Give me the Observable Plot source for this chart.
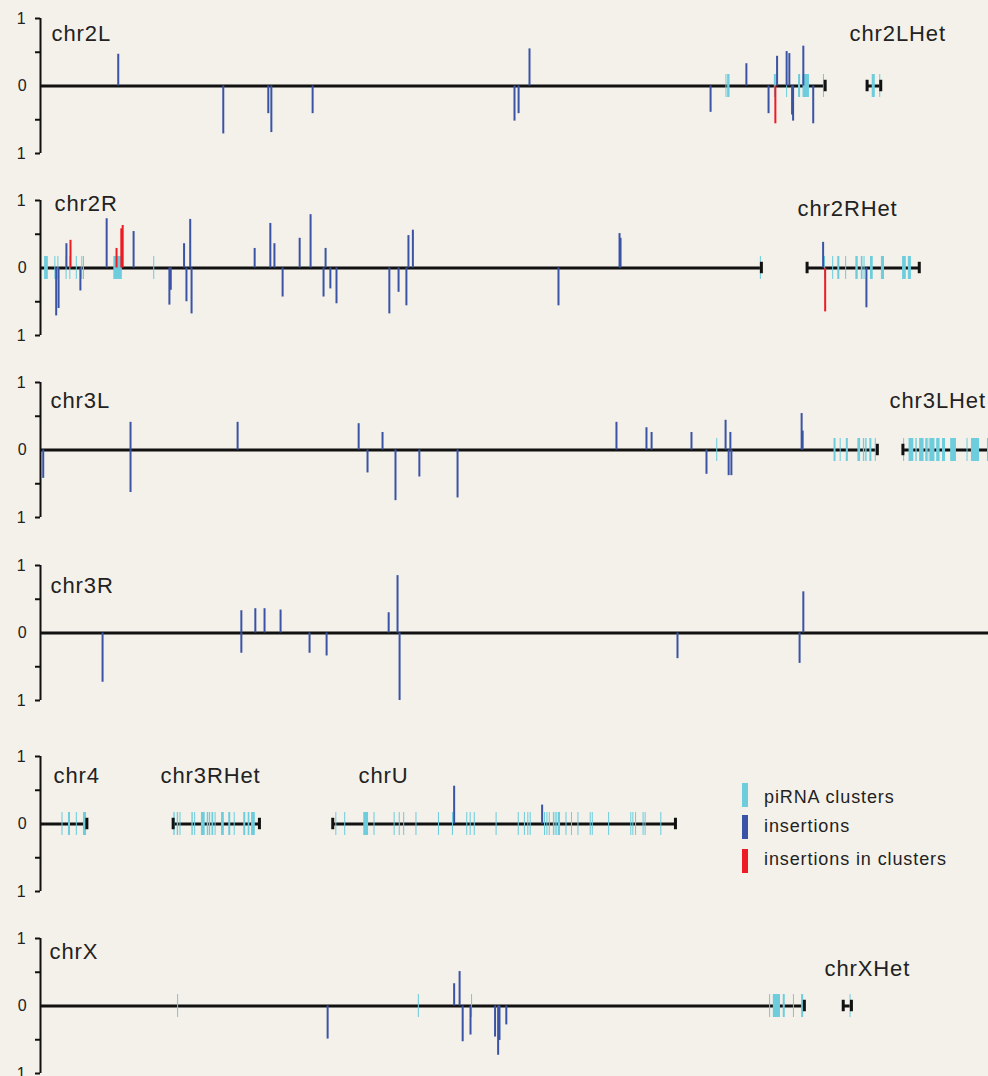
<!DOCTYPE html>
<html><head><meta charset="utf-8">
<script src="https://cdn.jsdelivr.net/npm/d3@7"></script>
<script src="https://cdn.jsdelivr.net/npm/@observablehq/plot@0.6"></script>
<style>
html,body{margin:0;padding:0;background:#f4f1ea;width:988px;height:1076px;overflow:hidden;}
#chart{position:relative;width:988px;height:1076px;overflow:hidden;font-family:"Liberation Sans",Arial,Helvetica,sans-serif;}
.row{position:absolute;left:0;}
</style></head><body><div id="chart"></div>
<script>
// ---------------- data (Mb, chromosome-local coordinates) ----------------
const chromNames   = ["chr2L","chr2LHet","chr2R","chr2RHet","chr3L","chr3LHet","chr3R","chr4","chr3RHet","chrU","chrX","chrXHet"];
const chromLengths = [23.01, 0.40, 21.14, 3.29, 24.54, 2.56, 27.91, 1.36, 2.53, 10.05, 22.40, 0.24];
const panelRows = [["chr2L","chr2LHet"],["chr2R","chr2RHet"],["chr3L","chr3LHet"],["chr3R"],["chr4","chr3RHet","chrU"],["chrX","chrXHet"]];

// piRNA clusters: [chromosome, start, end]
const clusters = [
  ["chr2L",0,0.03],["chr2L",20.10,20.13],["chr2L",20.15,20.22],["chr2L",21.52,21.58],["chr2L",21.88,21.91],["chr2L",22.23,22.29],["chr2L",22.36,22.55],["chr2L",22.96,22.99],
  ["chr2LHet",0.15,0.24],["chr2LHet",0.37,0.40],
  ["chr2R",0.12,0.23],["chr2R",0.42,0.45],["chr2R",0.51,0.54],["chr2R",0.75,0.78],["chr2R",0.86,0.89],["chr2R",1.05,1.08],["chr2R",1.21,1.24],["chr2R",1.26,1.29],["chr2R",2.15,2.40],["chr2R",3.32,3.35],["chr2R",21.11,21.14],
  ["chr2RHet",0.51,0.54],["chr2RHet",0.75,0.78],["chr2RHet",0.90,0.96],["chr2RHet",1.13,1.16],["chr2RHet",1.43,1.50],["chr2RHet",1.59,1.64],["chr2RHet",1.67,1.70],["chr2RHet",1.86,1.94],["chr2RHet",2.18,2.27],["chr2RHet",2.80,2.91],["chr2RHet",2.97,3.06],
  ["chr3L",19.83,19.86],["chr3L",23.27,23.33],["chr3L",23.45,23.48],["chr3L",23.63,23.69],["chr3L",23.97,24.05],["chr3L",24.13,24.17],["chr3L",24.20,24.24],["chr3L",24.32,24.38],["chr3L",24.48,24.51],
  ["chr3LHet",0.02,0.05],["chr3LHet",0.18,0.32],["chr3LHet",0.38,0.42],["chr3LHet",0.49,0.62],["chr3LHet",0.67,0.72],["chr3LHet",0.73,0.76],["chr3LHet",0.79,0.94],["chr3LHet",0.99,1.09],["chr3LHet",1.16,1.25],["chr3LHet",1.40,1.57],["chr3LHet",1.88,1.91],["chr3LHet",2.01,2.25],["chr3LHet",2.48,2.55],
  ["chr3R",0,0.03],
  ["chr4",0.63,0.66],["chr4",0.82,0.88],["chr4",1.05,1.08],["chr4",1.26,1.35],
  ["chr3RHet",0.02,0.06],["chr3RHet",0.12,0.16],["chr3RHet",0.20,0.23],["chr3RHet",0.55,0.59],["chr3RHet",0.63,0.66],["chr3RHet",0.83,0.94],["chr3RHet",1.00,1.04],["chr3RHet",1.06,1.10],["chr3RHet",1.14,1.19],["chr3RHet",1.23,1.26],["chr3RHet",1.42,1.50],["chr3RHet",1.63,1.69],["chr3RHet",1.79,1.82],["chr3RHet",2.07,2.13],["chr3RHet",2.20,2.25],["chr3RHet",2.30,2.41],
  ["chrU",0.09,0.12],["chrU",0.35,0.38],["chrU",0.91,1.05],["chrU",1.21,1.24],["chrU",1.80,1.83],["chrU",1.95,1.98],["chrU",2.08,2.11],["chrU",2.44,2.47],["chrU",3.10,3.13],["chrU",3.51,3.54],["chrU",3.93,3.96],["chrU",4.03,4.06],["chrU",4.15,4.18],["chrU",4.79,4.82],["chrU",5.44,5.47],["chrU",5.62,5.65],["chrU",5.72,5.75],["chrU",5.79,5.82],["chrU",6.21,6.24],["chrU",6.28,6.31],["chrU",6.35,6.38],["chrU",6.47,6.50],["chrU",6.52,6.55],["chrU",6.57,6.60],["chrU",6.62,6.65],["chrU",6.65,6.68],["chrU",6.84,6.87],["chrU",7.00,7.03],["chrU",7.19,7.22],["chrU",7.55,7.58],["chrU",7.61,7.64],["chrU",8.09,8.12],["chrU",8.74,8.77],["chrU",8.80,8.83],["chrU",8.88,8.91],["chrU",9.10,9.13],["chrU",9.16,9.19],["chrU",9.62,9.65],
  ["chrX",0,0.03],["chrX",4.02,4.05],["chrX",11.08,11.11],["chrX",12.64,12.67],["chrX",21.38,21.41],["chrX",21.49,21.70],["chrX",21.78,21.84],["chrX",22.08,22.11],["chrX",22.32,22.38],
  ["chrXHet",0.20,0.23]
];

// insertions: [chromosome, position, value (+ up / - down), inCluster]
const insertions = [
  ["chr2L",2.28,0.47,0],["chr2L",5.36,-0.71,0],["chr2L",6.68,-0.41,0],["chr2L",6.77,-0.69,0],["chr2L",7.98,-0.41,0],["chr2L",13.90,-0.52,0],["chr2L",14.02,-0.41,0],["chr2L",14.34,0.55,0],["chr2L",19.65,-0.39,0],["chr2L",20.70,0.33,0],["chr2L",21.35,-0.41,0],["chr2L",21.55,-0.56,1],["chr2L",21.60,0.44,0],["chr2L",21.88,0.51,0],["chr2L",21.96,0.48,0],["chr2L",22.04,-0.43,0],["chr2L",22.07,-0.52,0],["chr2L",22.37,0.59,0],["chr2L",22.66,-0.56,0],
  ["chr2R",0.46,-0.71,0],["chr2R",0.53,-0.60,0],["chr2R",0.76,0.36,0],["chr2R",0.88,0.41,1],["chr2R",1.17,-0.34,0],["chr2R",1.94,0.73,0],["chr2R",2.23,0.29,1],["chr2R",2.37,0.58,1],["chr2R",2.41,0.63,1],["chr2R",2.73,0.54,0],["chr2R",3.78,-0.55,0],["chr2R",3.82,-0.33,0],["chr2R",4.21,0.36,0],["chr2R",4.28,-0.50,0],["chr2R",4.39,0.72,0],["chr2R",4.43,-0.68,0],["chr2R",6.28,0.29,0],["chr2R",6.74,0.66,0],["chr2R",6.86,0.36,0],["chr2R",7.10,-0.43,0],["chr2R",7.60,0.44,0],["chr2R",7.92,0.79,0],["chr2R",8.30,-0.43,0],["chr2R",8.36,0.29,0],["chr2R",8.50,-0.31,0],["chr2R",8.68,-0.53,0],["chr2R",10.23,-0.68,0],["chr2R",10.50,-0.36,0],["chr2R",10.73,-0.56,0],["chr2R",10.79,0.48,0],["chr2R",10.92,0.56,0],["chr2R",15.19,-0.56,0],["chr2R",16.98,0.51,0],["chr2R",17.01,0.44,0],
  ["chr2RHet",0.47,0.38,0],["chr2RHet",0.53,-0.65,1],["chr2RHet",1.74,-0.59,0],
  ["chr3L",0.08,-0.42,0],["chr3L",2.64,0.41,0],["chr3L",2.64,-0.63,0],["chr3L",5.78,0.41,0],["chr3L",9.33,0.39,0],["chr3L",9.59,-0.34,0],["chr3L",10.03,0.26,0],["chr3L",10.41,-0.75,0],["chr3L",11.11,-0.40,0],["chr3L",12.23,-0.71,0],["chr3L",16.89,0.41,0],["chr3L",17.77,0.33,0],["chr3L",17.92,0.26,0],["chr3L",19.09,0.26,0],["chr3L",19.53,-0.36,0],["chr3L",20.09,0.44,0],["chr3L",20.18,-0.38,0],["chr3L",20.23,0.26,0],["chr3L",20.26,-0.38,0],["chr3L",22.32,0.54,0],["chr3L",22.35,0.28,0],
  ["chr3R",1.82,-0.73,0],["chr3R",5.89,0.33,0],["chr3R",5.89,-0.30,0],["chr3R",6.30,0.36,0],["chr3R",6.57,0.36,0],["chr3R",7.04,0.34,0],["chr3R",7.89,-0.30,0],["chr3R",8.39,-0.34,0],["chr3R",10.21,0.30,0],["chr3R",10.47,0.85,0],["chr3R",10.53,-1.0,0],["chr3R",18.68,-0.38,0],["chr3R",22.26,-0.45,0],["chr3R",22.37,0.61,0],
  ["chrU",3.56,0.56,0],["chrU",6.14,0.28,0],
  ["chrX",8.42,-0.49,0],["chrX",12.13,0.33,0],["chrX",12.29,0.51,0],["chrX",12.38,-0.53,0],["chrX",12.61,-0.43,0],["chrX",13.33,-0.46,0],["chrX",13.42,-0.73,0],["chrX",13.46,-0.51,0],["chrX",13.66,-0.28,0]
];

const yTickValues = [-1, -0.5, 0.5, 1];
const legendLabels = ["piRNA clusters", "insertions", "insertions in clusters"];

// ---------------- layout ----------------
const chromOffsets = {chr2LHet:24.24, chr2RHet:22.48, chr3LHet:25.29, chr3RHet:3.89, chrU:8.57, chrXHet:23.54};
const panelTops = [1, 183, 365, 548, 739, 921];
const labelPlacement = {chr2L:[51,39], chr2LHet:[849,39], chr2R:[54,27], chr2RHet:[797,32], chr3L:[50,42], chr3LHet:[889,42], chr3R:[50,44], chr4:[53,43], chr3RHet:[160,43], chrU:[358,43], chrX:[49,37], chrXHet:[824,54]};
const COL = {cluster:"#6dcddd", ins:"#3a53a4", red:"#ed1c24", line:"#111111", text:"#222222"};
const FONT = '"Liberation Sans", Arial, Helvetica, sans-serif';

const lengthOf = Object.fromEntries(chromNames.map((n, i) => [n, chromLengths[i]]));
const off = n => chromOffsets[n] || 0;
const chart = document.getElementById("chart");

panelRows.forEach((names, r) => {
  const chroms = names.map(n => ({name: n, start: off(n), end: off(n) + lengthOf[n]}));
  const caps = chroms.flatMap(c => c.start > 0 ? [c.start, c.end] : [c.end]);
  const cl = clusters.filter(d => names.includes(d[0])).map(d => ({x1: off(d[0]) + d[1], x2: off(d[0]) + d[2]}));
  const ins = insertions.filter(d => names.includes(d[0])).map(d => ({x: off(d[0]) + d[1], v: d[2], c: d[3]}));
  const labelMarks = names.map(n => Plot.text([n], {
    frameAnchor: "top-left", dx: labelPlacement[n][0] - 40, dy: labelPlacement[n][1] - 17,
    textAnchor: "start", lineAnchor: "bottom", fontSize: 22, fill: COL.text
  }));
  const svg = Plot.plot({
    width: 988, height: 170,
    marginLeft: 40, marginRight: 0, marginTop: 17, marginBottom: 18,
    style: {background: "transparent", fontFamily: FONT, color: COL.text, letterSpacing: "0.9px"},
    x: {domain: [0, 27.8], axis: null},
    y: {domain: [-1, 1], axis: null},
    marks: [
      Plot.ruleY(chroms, {x1: "start", x2: "end", y: 0, stroke: COL.line, strokeWidth: 3}),
      Plot.rect(cl, {x1: "x1", x2: "x2", y1: -0.17, y2: 0.17, fill: COL.cluster}),
      Plot.ruleX(ins.filter(d => !d.c), {x: "x", y1: 0, y2: "v", stroke: COL.ins, strokeWidth: 2}),
      Plot.ruleX(ins.filter(d => d.c), {x: "x", y1: 0, y2: "v", stroke: COL.red, strokeWidth: 2}),
      Plot.ruleX(caps, {y1: -0.085, y2: 0.085, stroke: COL.line, strokeWidth: 3}),
      Plot.ruleX([0], {y1: -1, y2: 1, stroke: COL.line, strokeWidth: 2}),
      Plot.axisY({ticks: yTickValues, tickSize: 5, tickPadding: 9, strokeWidth: 2, stroke: COL.line,
        tickFormat: d => Number.isInteger(d) ? String(Math.abs(d)) : "", fontSize: 16, label: null}),
      Plot.axisY({ticks: [0], tickSize: 0, tickPadding: 13, tickFormat: d => String(d), fontSize: 16, label: null}),
      ...labelMarks
    ]
  });
  svg.setAttribute("class", "row");
  svg.style.top = panelTops[r] + "px";
  chart.appendChild(svg);
});

// legend
const legendColors = [COL.cluster, COL.ins, COL.red];
const legendSwatchY = [783, 815, 849];
const legendBaseline = [803, 832, 865];
const leg = d3.select(chart).append("svg")
  .attr("width", 260).attr("height", 120)
  .style("position", "absolute").style("left", "730px").style("top", "770px");
legendLabels.forEach((t, i) => {
  leg.append("rect").attr("x", 12).attr("y", legendSwatchY[i] - 770).attr("width", 6).attr("height", 24).attr("fill", legendColors[i]);
  leg.append("text").attr("x", 34).attr("y", legendBaseline[i] - 770).text(t)
    .attr("font-family", FONT).attr("font-size", 18).attr("letter-spacing", "0.9px").attr("fill", COL.text);
});
</script>
</body></html>
